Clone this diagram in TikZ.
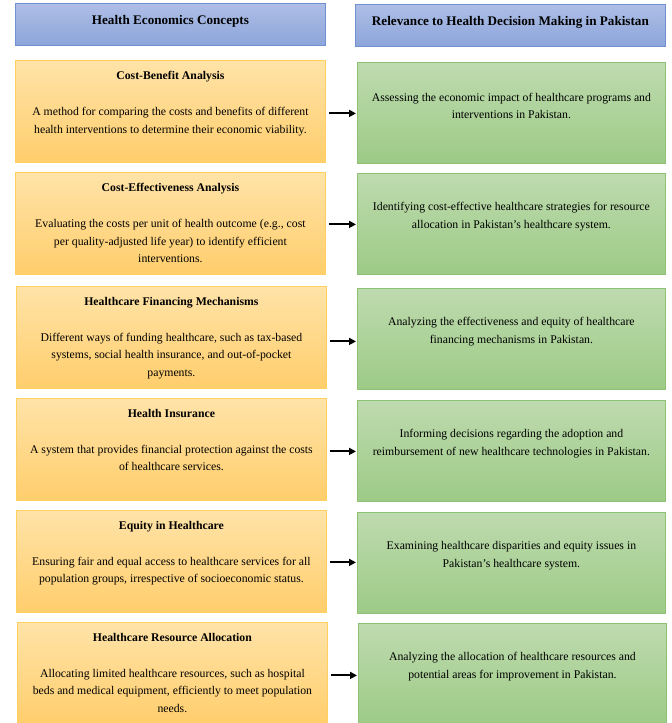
\documentclass[tikz,border=0pt]{standalone}
\usepackage{fontspec}
\setmainfont{Liberation Serif}
\usetikzlibrary{arrows.meta,calc}
\definecolor{hdtop}{HTML}{AEBEE6}
\definecolor{hdbot}{HTML}{8CA5DA}
\definecolor{hdline}{HTML}{7090D2}
\definecolor{ortop}{HTML}{FFE3A8}
\definecolor{orbot}{HTML}{FFCE6C}
\definecolor{orline}{HTML}{FFD060}
\definecolor{grtop}{HTML}{BEDBAF}
\definecolor{grbot}{HTML}{9DCA86}
\definecolor{grline}{HTML}{8DC274}
\tikzset{
  x=1bp, y=-1bp,
  hdbox/.style={rectangle, draw=hdline, line width=0.8bp, top color=hdtop, bottom color=hdbot, anchor=north west, minimum width=310bp, minimum height=42bp, inner sep=0pt},
  lbox/.style={rectangle, draw=orline, line width=0.8bp, top color=ortop, bottom color=orbot, anchor=north west, minimum width=310bp, minimum height=102bp, inner sep=0pt},
  rbox/.style={rectangle, draw=grline, line width=0.8bp, top color=grtop, bottom color=grbot, anchor=north west, minimum width=308bp, minimum height=101bp, inner sep=0pt},
  hdtext/.style={font=\fontsize{13.2}{15}\selectfont\bfseries, inner sep=0pt},
  ltext/.style={anchor=north, inner sep=0pt, align=center, font=\fontsize{11.8}{17.6}\selectfont},
  rtext/.style={inner sep=0pt, align=center, font=\fontsize{11.8}{17.8}\selectfont},
  conn/.style={-{Triangle[length=7bp,width=7bp]}, line width=2bp, black, shorten <=3bp, shorten >=1bp}
}
\begin{document}
\begin{tikzpicture}
\useasboundingbox (0,0) rectangle (672,723);
\begin{scope}
\clip (0,0) rectangle (672,723);
% headers
\node[hdbox] (H1) at (15,3) {};
\node[hdtext] (H1t) at ($(H1.center)+(0,-3)$) {Health Economics Concepts};
\node[hdbox] (H2) at (355,4) {};
\node[hdtext] (H2t) at ($(H2.center)+(0,-3)$) {Relevance to Health Decision Making in Pakistan};

% left boxes
\node[lbox] (L1) at (15,60) {};
\node[lbox] (L2) at (15,172) {};
\node[lbox] (L3) at (16,286) {};
\node[lbox] (L4) at (16,398) {};
\node[lbox] (L5) at (16,510) {};
\node[lbox] (L6) at (17,622) {};

\node[ltext] (L1t) at ($(L1.north)+(0,11)$) {\textbf{Cost-Benefit Analysis}\\[18.5bp]A method for comparing the costs and benefits of different\\health interventions to determine their economic viability.};
\node[ltext] (L2t) at ($(L2.north)+(0,11)$) {\textbf{Cost-Effectiveness Analysis}\\[18.5bp]Evaluating the costs per unit of health outcome (e.g., cost\\per quality-adjusted life year) to identify efficient\\interventions.};
\node[ltext] (L3t) at ($(L3.north)+(0,11)$) {\textbf{Healthcare Financing Mechanisms}\\[18.5bp]Different ways of funding healthcare, such as tax-based\\systems, social health insurance, and out-of-pocket\\payments.};
\node[ltext] (L4t) at ($(L4.north)+(0,11)$) {\textbf{Health Insurance}\\[18.5bp]A system that provides financial protection against the costs\\of healthcare services.};
\node[ltext] (L5t) at ($(L5.north)+(0,11)$) {\textbf{Equity in Healthcare}\\[18.5bp]Ensuring fair and equal access to healthcare services for all\\population groups, irrespective of socioeconomic status.};
\node[ltext] (L6t) at ($(L6.north)+(0,11)$) {\textbf{Healthcare Resource Allocation}\\[18.5bp]Allocating limited healthcare resources, such as hospital\\beds and medical equipment, efficiently to meet population\\needs.};

% right boxes
\node[rbox] (R1) at (357,62) {};
\node[rbox] (R2) at (357,173) {};
\node[rbox] (R3) at (357,288) {};
\node[rbox] (R4) at (357,400) {};
\node[rbox] (R5) at (357,512) {};
\node[rbox] (R6) at (358,623) {};

\node[rtext] (R1t) at ($(R1.center)+(0,-7)$) {Assessing the economic impact of healthcare programs and\\interventions in Pakistan.};
\node[rtext] (R2t) at ($(R2.center)+(0,-7)$) {Identifying cost-effective healthcare strategies for resource\\allocation in Pakistan’s healthcare system.};
\node[rtext] (R3t) at ($(R3.center)+(0,-7)$) {Analyzing the effectiveness and equity of healthcare\\financing mechanisms in Pakistan.};
\node[rtext] (R4t) at ($(R4.center)+(0,-7)$) {Informing decisions regarding the adoption and\\reimbursement of new healthcare technologies in Pakistan.};
\node[rtext] (R5t) at ($(R5.center)+(0,-7)$) {Examining healthcare disparities and equity issues in\\Pakistan’s healthcare system.};
\node[rtext] (R6t) at ($(R6.center)+(0,-7)$) {Analyzing the allocation of healthcare resources and\\potential areas for improvement in Pakistan.};

% connectors
\draw[conn] ($(L1.east)+(0,2)$) -- ($(L1.east -| R1.west)+(0,2)$);
\draw[conn] ($(L2.east)+(0,1)$) -- ($(L2.east -| R2.west)+(0,1)$);
\draw[conn] ($(L3.east)+(0,4)$) -- ($(L3.east -| R3.west)+(0,4)$);
\draw[conn] ($(L4.east)+(0,2)$) -- ($(L4.east -| R4.west)+(0,2)$);
\draw[conn] ($(L5.east)+(0,1)$) -- ($(L5.east -| R5.west)+(0,1)$);
\draw[conn] ($(L6.east)+(0,2)$) -- ($(L6.east -| R6.west)+(0,2)$);
\end{scope}
\end{tikzpicture}
\end{document}
